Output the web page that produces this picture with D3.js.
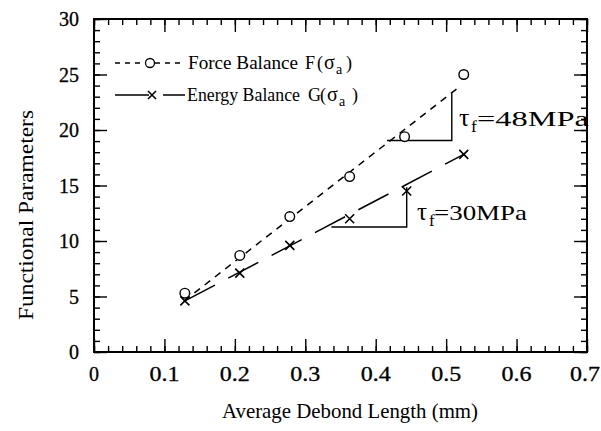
<!DOCTYPE html>
<html><head><meta charset="utf-8">
<script src="https://cdn.jsdelivr.net/npm/d3@7"></script>
<style>html,body{margin:0;padding:0;background:#fff;}svg{display:block;}</style>
</head><body>
<svg id="chart" width="601" height="431"></svg>
<script>
// ---- data ----
const xForce  = [0.129, 0.207, 0.278, 0.363, 0.441, 0.525];
const yForce  = [5.3, 8.7, 12.2, 15.8, 19.4, 25.0];
const xEnergy = [0.129, 0.207, 0.278, 0.363, 0.444, 0.525];
const yEnergy = [4.6, 7.1, 9.6, 12.0, 14.5, 17.8];
const forceFitX  = [0.128, 0.518];
const forceFitY  = [4.6, 23.85];
const energyFitX = [0.129, 0.525];
const energyFitY = [4.6, 17.8];
const forceTriX  = [0.416, 0.508, 0.508];
const forceTriY  = [19.05, 19.05, 23.3];
const energyTriX = [0.337, 0.444, 0.444];
const energyTriY = [11.26, 11.26, 14.85];
const xMajor = [0, 0.1, 0.2, 0.3, 0.4, 0.5, 0.6, 0.7];
const xTickLabels = ["0", "0.1", "0.2", "0.3", "0.4", "0.5", "0.6", "0.7"];
const yMajor = [0, 5, 10, 15, 20, 25, 30];
const yTickLabels = ["0", "5", "10", "15", "20", "25", "30"];
const xMinor = d3.range(0, 36).map(i => i * 0.02);
const yMinor = d3.range(0, 31);

const FONT = '"Liberation Serif","Times New Roman",serif';
const svg = d3.select("#chart");
const L = 94, R = 587, T = 19, B = 352;
const x = d3.scaleLinear().domain([0, 0.7]).range([L, R]);
const y = d3.scaleLinear().domain([0, 30]).range([B, T]);

// ---- ticks (inward, all 4 sides) ----
function addAxis(axisGen, transform) {
  const g = svg.append("g").attr("transform", transform).call(axisGen);
  g.select(".domain").remove();
  g.selectAll("line").attr("stroke", "#000").attr("stroke-width", 1.4);
  g.selectAll("text").remove();
}
[[xMinor, 6], [xMajor, 13]].forEach(([vals, s]) => {
  addAxis(d3.axisBottom(x).tickValues(vals).tickSize(-s), `translate(0,${B})`);
  addAxis(d3.axisTop(x).tickValues(vals).tickSize(-s), `translate(0,${T})`);
});
[[yMinor, 6], [yMajor, 13]].forEach(([vals, s]) => {
  addAxis(d3.axisLeft(y).tickValues(vals).tickSize(-s), `translate(${L},0)`);
  addAxis(d3.axisRight(y).tickValues(vals).tickSize(-s), `translate(${R},0)`);
});
svg.append("rect").attr("x", L).attr("y", T).attr("width", R - L).attr("height", B - T)
  .attr("fill", "none").attr("stroke", "#000").attr("stroke-width", 2);

// tick labels
svg.append("g").selectAll("text").data(xMajor).join("text")
  .attr("x", (d, i) => x(d) - (i === xMajor.length - 1 ? 2 : 0)).attr("y", 381)
  .attr("text-anchor", "middle").attr("font-family", FONT).attr("font-size", 20)
  .attr("stroke", "#000").attr("stroke-width", 0.3)
  .each(function(d, i) { if (xTickLabels[i].length > 1) d3.select(this).attr("textLength", 30).attr("lengthAdjust", "spacingAndGlyphs"); })
  .text((d, i) => xTickLabels[i]);
svg.append("g").selectAll("text").data(yMajor).join("text")
  .attr("x", 79).attr("y", d => y(d)).attr("dy", "0.35em")
  .attr("text-anchor", "end").attr("font-family", FONT).attr("font-size", 20)
  .attr("stroke", "#000").attr("stroke-width", 0.3)
  .text((d, i) => yTickLabels[i]);

// axis titles
svg.append("text").attr("x", 350).attr("y", 418).attr("text-anchor", "middle")
  .attr("font-family", FONT).attr("font-size", 21).attr("textLength", 256).attr("lengthAdjust", "spacingAndGlyphs")
  .text("Average Debond Length (mm)");
svg.append("text").attr("transform", "translate(33,215) rotate(-90)").attr("text-anchor", "middle")
  .attr("font-family", FONT).attr("font-size", 22).attr("textLength", 210).attr("lengthAdjust", "spacingAndGlyphs")
  .text("Functional Parameters");

// ---- fit lines ----
const line = d3.line().x(d => x(d[0])).y(d => y(d[1]));
svg.append("path").datum(d3.zip(forceFitX, forceFitY)).attr("d", line)
  .attr("fill", "none").attr("stroke", "#000").attr("stroke-width", 1.5).attr("stroke-dasharray", "7,6");
svg.append("path").datum(d3.zip(energyFitX, energyFitY)).attr("d", line)
  .attr("fill", "none").attr("stroke", "#000").attr("stroke-width", 1.5).attr("stroke-dasharray", "34,15");
// slope triangles
[[forceTriX, forceTriY], [energyTriX, energyTriY]].forEach(([tx, ty]) => {
  svg.append("path").datum(d3.zip(tx, ty)).attr("d", line)
    .attr("fill", "none").attr("stroke", "#000").attr("stroke-width", 1.4);
});

// ---- markers ----
svg.append("g").selectAll("circle").data(d3.zip(xForce, yForce)).join("circle")
  .attr("cx", d => x(d[0])).attr("cy", d => y(d[1])).attr("r", 4.8)
  .attr("fill", "#fff").attr("stroke", "#000").attr("stroke-width", 1.4);
const cross = (g, cx, cy, s) => g.append("path")
  .attr("d", `M${cx - s},${cy - s}L${cx + s},${cy + s}M${cx - s},${cy + s}L${cx + s},${cy - s}`)
  .attr("stroke", "#000").attr("stroke-width", 1.6).attr("fill", "none");
const gx = svg.append("g");
d3.zip(xEnergy, yEnergy).forEach(d => cross(gx, x(d[0]), y(d[1]), 4.5));

// ---- legend ----
const lg = svg.append("g");
lg.append("line").attr("x1", 115).attr("x2", 185).attr("y1", 63).attr("y2", 63)
  .attr("stroke", "#000").attr("stroke-width", 1.4).attr("stroke-dasharray", "5,5");
lg.append("circle").attr("cx", 150).attr("cy", 63).attr("r", 4.5)
  .attr("fill", "#fff").attr("stroke", "#000").attr("stroke-width", 1.3);
lg.append("line").attr("x1", 115).attr("x2", 185).attr("y1", 95).attr("y2", 95)
  .attr("stroke", "#000").attr("stroke-width", 1.4).attr("stroke-dasharray", "34,14");
cross(lg, 152, 95, 4);
lg.append("text").attr("x", 188).attr("y", 69).attr("font-family", FONT).attr("font-size", 18)
  .attr("textLength", 110).attr("lengthAdjust", "spacingAndGlyphs").text("Force Balance");
lg.append("text").attr("x", 187).attr("y", 101).attr("font-family", FONT).attr("font-size", 18)
  .attr("textLength", 113).attr("lengthAdjust", "spacingAndGlyphs").text("Energy Balance");
function sigmaLabel(letter, xs, base) {
  const t = lg.append("text").attr("y", base).attr("font-family", FONT).attr("font-size", 18);
  t.append("tspan").attr("x", xs[0]).text(letter);
  t.append("tspan").attr("x", xs[1]).text("(");
  t.append("tspan").attr("x", xs[2]).attr("font-size", 20).text("σ");
  t.append("tspan").attr("x", xs[3]).attr("y", base + 5).attr("font-size", 14).text("a");
  t.append("tspan").attr("x", xs[4]).attr("y", base).text(")");
}
sigmaLabel("F", [305, 317, 324, 336, 346], 69);
sigmaLabel("G", [308, 320, 327, 339, 352], 101);

// ---- tau labels ----
function tauLabel(x0, base, fs, eqText, eqX, eqLen) {
  const t = svg.append("text").attr("font-family", FONT).attr("font-size", fs + 4);
  t.append("tspan").attr("x", x0).attr("y", base).text("τ");
  t.append("tspan").attr("x", x0 + 12).attr("y", base + 6).attr("font-size", fs * 0.8).text("f");
  svg.append("text").attr("x", eqX).attr("y", base).attr("font-family", FONT).attr("font-size", fs)
    .attr("textLength", eqLen).attr("lengthAdjust", "spacingAndGlyphs").text(eqText);
}
tauLabel(459, 126, 22, "=48MPa", 477, 112);
tauLabel(417, 220, 21, "=30MPa", 434, 93);
</script>
</body></html>
